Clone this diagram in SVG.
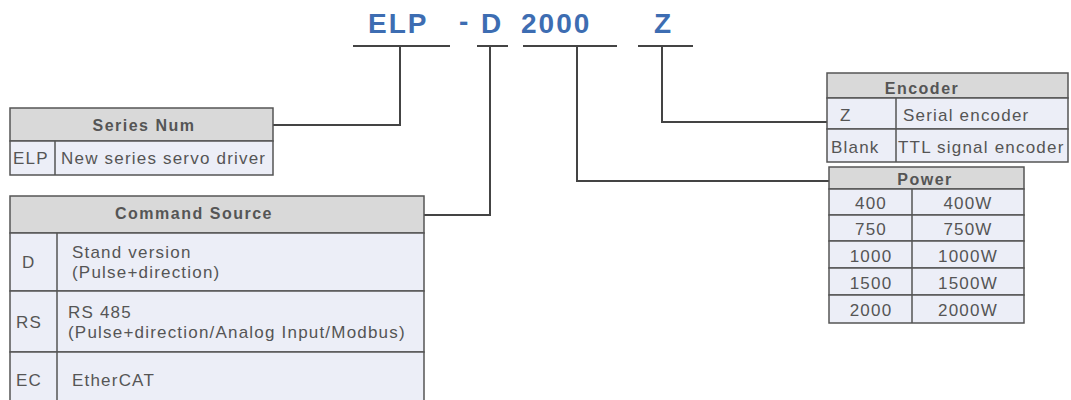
<svg xmlns="http://www.w3.org/2000/svg" width="1071" height="400" viewBox="0 0 1071 400">
<style>
.t{font-family:"Liberation Sans",Arial,sans-serif;fill:#555;font-size:17px;letter-spacing:1.2px}
.h{font-family:"Liberation Sans",Arial,sans-serif;fill:#555;font-size:16px;font-weight:bold;text-anchor:middle;letter-spacing:1.5px}
.c{text-anchor:middle}
.title{font-family:"Liberation Sans",Arial,sans-serif;fill:#3d6db2;font-size:28px;font-weight:bold;letter-spacing:2px}
.hd{fill:#d9d9d9;stroke:#555;stroke-width:1.5}
.row{fill:#eceef7;stroke:#555;stroke-width:1.5}
.ln{stroke:#555;stroke-width:1.5;fill:none}
.conn{stroke:#444;stroke-width:2;fill:none}
</style>
<rect width="1071" height="400" fill="#fff"/>
<g id="title">
<text class="title" x="368" y="33">ELP</text>
<text class="title" x="459" y="31">-</text>
<text class="title" x="481" y="33">D</text>
<text class="title" x="521" y="33">2000</text>
<text class="title" x="654" y="33">Z</text>
<line class="conn" x1="353" y1="46" x2="450" y2="46"/>
<line class="conn" x1="477" y1="46" x2="508" y2="46"/>
<line class="conn" x1="523" y1="46" x2="617" y2="46"/>
<line class="conn" x1="638" y1="46" x2="693" y2="46"/>
</g>
<g id="connectors">
<polyline class="conn" points="400,46 400,125 273,125"/>
<polyline class="conn" points="490,46 490,215 424,215"/>
<polyline class="conn" points="577,46 577,181 829,181"/>
<polyline class="conn" points="662,46 662,122 827,122"/>
</g>
<g id="series-num">
<rect class="hd" x="10" y="108" width="263" height="33"/>
<rect class="row" x="10" y="141" width="263" height="34"/>
<line class="ln" x1="55" y1="141" x2="55" y2="175"/>
<text class="h" x="144" y="131">Series Num</text>
<text class="t" x="13" y="164">ELP</text>
<text class="t" x="61" y="164">New series servo driver</text>
</g>
<g id="command-source">
<rect class="hd" x="10" y="196" width="414" height="37"/>
<rect class="row" x="10" y="233" width="414" height="58"/>
<rect class="row" x="10" y="291" width="414" height="61"/>
<rect class="row" x="10" y="352" width="414" height="58"/>
<line class="ln" x1="57" y1="233" x2="57" y2="400"/>
<text class="h" x="194" y="219">Command Source</text>
<text class="t" x="22" y="268">D</text>
<text class="t" x="72" y="258">Stand version</text>
<text class="t" x="72" y="278">(Pulse+direction)</text>
<text class="t" x="16" y="328">RS</text>
<text class="t" x="68" y="318">RS 485</text>
<text class="t" x="68" y="338">(Pulse+direction/Analog Input/Modbus)</text>
<text class="t" x="16" y="386">EC</text>
<text class="t" x="72" y="386">EtherCAT</text>
</g>
<g id="encoder">
<rect class="hd" x="827" y="73" width="241" height="25"/>
<rect class="row" x="827" y="98" width="241" height="31"/>
<rect class="row" x="827" y="129" width="241" height="33"/>
<line class="ln" x1="896" y1="98" x2="896" y2="162"/>
<text class="h" x="922" y="94">Encoder</text>
<text class="t" x="840" y="121">Z</text>
<text class="t" x="903" y="121">Serial encoder</text>
<text class="t" x="831" y="153">Blank</text>
<text class="t" x="898" y="153" letter-spacing="0.9">TTL signal encoder</text>
</g>
<g id="power">
<rect class="hd" x="829" y="167" width="195" height="22"/>
<rect class="row" x="829" y="189" width="195" height="26"/>
<rect class="row" x="829" y="215" width="195" height="26"/>
<rect class="row" x="829" y="241" width="195" height="27"/>
<rect class="row" x="829" y="268" width="195" height="27"/>
<rect class="row" x="829" y="295" width="195" height="28"/>
<line class="ln" x1="912" y1="189" x2="912" y2="323"/>
<text class="h" x="925" y="185">Power</text>
<text class="t c" x="871" y="209">400</text>
<text class="t c" x="968" y="209">400W</text>
<text class="t c" x="871" y="235">750</text>
<text class="t c" x="968" y="235">750W</text>
<text class="t c" x="871" y="262">1000</text>
<text class="t c" x="968" y="262">1000W</text>
<text class="t c" x="871" y="289">1500</text>
<text class="t c" x="968" y="289">1500W</text>
<text class="t c" x="871" y="316">2000</text>
<text class="t c" x="968" y="316">2000W</text>
</g>
</svg>
